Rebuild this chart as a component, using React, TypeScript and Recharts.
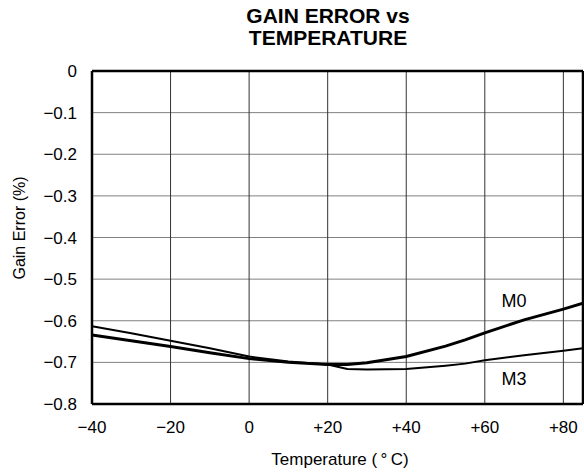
import { LineChart, Line, XAxis, YAxis, CartesianGrid, ReferenceLine } from "recharts";

// temperature sweep (°C) and gain error (%) for the two modes
const temps = [-40, -30, -20, -10, 0, 10, 20, 25, 30, 40, 50, 55, 60, 70, 80, 85];
const gainM0 = [-0.634, -0.648, -0.662, -0.677, -0.691, -0.7, -0.705, -0.705, -0.701, -0.686, -0.661, -0.646, -0.629, -0.598, -0.572, -0.558];
const gainM3 = [-0.613, -0.63, -0.648, -0.666, -0.686, -0.698, -0.705, -0.716, -0.717, -0.716, -0.708, -0.703, -0.695, -0.683, -0.672, -0.666];

const xTicks = [-40, -20, 0, 20, 40, 60, 80];
const yTicks = [-0.8, -0.7, -0.6, -0.5, -0.4, -0.3, -0.2, -0.1, 0];

const rows = temps.map((t, i) => ({ temp: t, m0: gainM0[i], m3: gainM3[i] }));

const FONT = "'Liberation Sans', Arial, Helvetica, sans-serif";
const tickStyle = { fontSize: 17, fill: "#000", fontFamily: FONT };

const fmtX = (v: number) => (v > 0 ? `+${v}` : v < 0 ? `\u2212${Math.abs(v)}` : "0");
const fmtY = (v: number) => (v === 0 ? "0" : `\u2212${Math.abs(v).toFixed(1)}`);

export default function App() {
  return (
    <div style={{ position: "absolute", left: 0, top: 0, width: 584, height: 472, background: "#fff", fontFamily: FONT }}>
      <div
        style={{
          position: "absolute",
          left: 128,
          top: 5,
          width: 400,
          textAlign: "center",
          fontWeight: "bold",
          fontSize: 21,
          lineHeight: "22px",
        }}
      >
        GAIN ERROR vs
        <br />
        TEMPERATURE
      </div>

      <LineChart width={584} height={472} data={rows} margin={{ top: 71, right: 1, bottom: 0, left: 0 }}>
        <CartesianGrid vertical={false} stroke="#808080" strokeWidth={1} />
        <CartesianGrid horizontal={false} stroke="#333" strokeWidth={1} />
        <XAxis
          dataKey="temp"
          type="number"
          domain={[-40, 85]}
          ticks={xTicks}
          tickFormatter={fmtX}
          tick={tickStyle}
          tickLine={false}
          tickSize={0}
          tickMargin={17}
          axisLine={{ stroke: "#000", strokeWidth: 2.5 }}
          height={68}
          allowDataOverflow
        />
        <YAxis
          type="number"
          domain={[-0.8, 0]}
          ticks={yTicks}
          tickFormatter={fmtY}
          tick={tickStyle}
          tickLine={false}
          tickSize={0}
          tickMargin={15}
          axisLine={{ stroke: "#000", strokeWidth: 2.5 }}
          width={92}
          allowDataOverflow
        />
        <ReferenceLine y={0} stroke="#000" strokeWidth={2.5} />
        <ReferenceLine x={85} stroke="#000" strokeWidth={2.5} />
        <Line dataKey="m3" type="linear" stroke="#000" strokeWidth={2} dot={false} isAnimationActive={false} />
        <Line dataKey="m0" type="linear" stroke="#000" strokeWidth={3} dot={false} isAnimationActive={false} />
      </LineChart>

      <div style={{ position: "absolute", left: 494, top: 291, width: 40, textAlign: "center", fontSize: 18 }}>M0</div>
      <div style={{ position: "absolute", left: 494, top: 369, width: 40, textAlign: "center", fontSize: 18 }}>M3</div>

      <div style={{ position: "absolute", left: 240, top: 450, width: 200, textAlign: "center", fontSize: 17 }}>
        Temperature (&thinsp;°&thinsp;C)
      </div>
      <div
        style={{
          position: "absolute",
          left: 20,
          top: 228,
          width: 160,
          marginLeft: -80,
          marginTop: -10,
          lineHeight: "20px",
          textAlign: "center",
          fontSize: 16,
          transform: "rotate(-90deg)",
        }}
      >
        Gain Error (%)
      </div>
    </div>
  );
}
